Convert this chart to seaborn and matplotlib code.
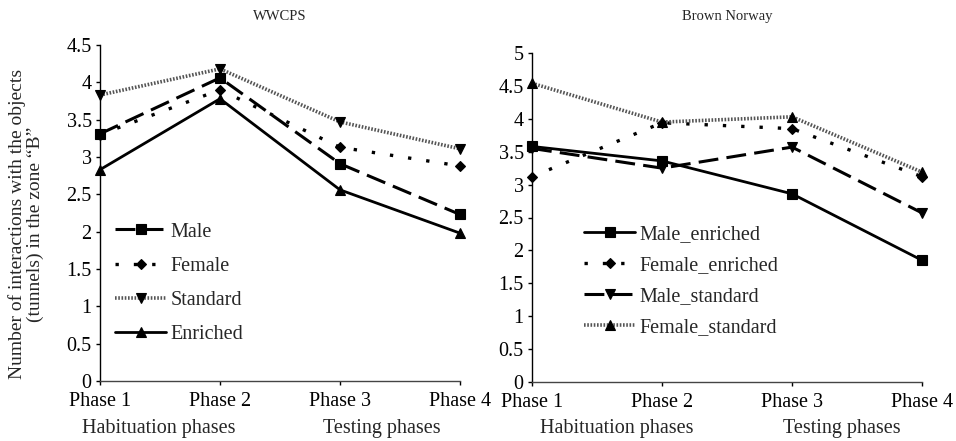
import matplotlib
matplotlib.use('Agg')
import matplotlib.pyplot as plt
import matplotlib.ticker as mticker
import seaborn as sns
import numpy as np

sns.set_style("ticks")
plt.rcParams['font.family'] = ['Liberation Serif', 'DejaVu Serif']

phases = ["Phase 1", "Phase 2", "Phase 3", "Phase 4"]
groups = ["Habituation phases", "Testing phases"]

# WWCPS
wwcps_labels = ["Male", "Female", "Standard", "Enriched"]
wwcps_male = [3.31, 4.06, 2.91, 2.23]
wwcps_female = [3.30, 3.90, 3.13, 2.88]
wwcps_standard = [3.83, 4.18, 3.47, 3.11]
wwcps_enriched = [2.83, 3.78, 2.56, 1.98]

# Brown Norway
bn_labels = ["Male_enriched", "Female_enriched", "Male_standard", "Female_standard"]
bn_male_enriched = [3.58, 3.36, 2.86, 1.85]
bn_female_enriched = [3.12, 3.94, 3.85, 3.12]
bn_male_standard = [3.55, 3.25, 3.57, 2.57]
bn_female_standard = [4.54, 3.95, 4.03, 3.19]

# line looks (Excel style black & white)
DASHED = dict(linestyle=(0, (6.5, 2.7)), linewidth=2.2, color='black')
DOTTED = dict(linestyle=(0, (1, 4.5)), linewidth=2.4, color='black')
FINE = dict(linestyle=(0, (0.45, 0.45)), linewidth=2.6, color='#555555')
SOLID = dict(linestyle='-', linewidth=2.0, color='black')

FS = 14.5
x = np.arange(len(phases))

fig = plt.figure(figsize=(9.56, 4.41), dpi=100)
ax1 = fig.add_axes([100 / 956, 1 - 381 / 441, 360 / 956, 336 / 441])
ax2 = fig.add_axes([532 / 956, 1 - 382 / 441, 390 / 956, 329 / 441])


def draw(ax, series, labels, looks, markers, msizes):
    for vals, lab, look, mk, ms in zip(series, labels, looks, markers, msizes):
        sns.lineplot(x=x, y=vals, ax=ax, label=lab, marker=mk,
                     markersize=ms, markeredgecolor='black', markerfacecolor='black',
                     markeredgewidth=0.8, clip_on=False, **look)


draw(ax1, [wwcps_male, wwcps_female, wwcps_standard, wwcps_enriched], wwcps_labels,
     [DASHED, DOTTED, FINE, SOLID], ['s', 'D', 'v', '^'], [7, 5, 7.5, 7.5])
draw(ax2, [bn_male_enriched, bn_female_enriched, bn_male_standard, bn_female_standard], bn_labels,
     [SOLID, DOTTED, DASHED, FINE], ['s', 'D', 'v', '^'], [7, 5, 7.5, 7.5])

for ax, ymax, title, tpad, grp_x, leg_xy, lspace in [
        (ax1, 4.5, "WWCPS", 18, [0.49, 2.35], (0.042, 0.472), 0.75),
        (ax2, 5.0, "Brown Norway", 24, [0.65, 2.38], (0.133, 0.478), 0.59)]:
    ax.set_xlim(0, 3)
    ax.set_ylim(0, ymax)
    ax.set_xticks(x)
    ax.set_xticklabels(phases)
    ax.set_yticks(np.arange(0, ymax + 0.01, 0.5))
    ax.yaxis.set_major_formatter(mticker.FuncFormatter(lambda v, p: f"{v:g}"))
    ax.tick_params(axis='both', labelsize=FS, length=3, width=1, direction='out',
                   colors='black', pad=3)
    ax.tick_params(axis='x', pad=5)
    sns.despine(ax=ax)
    ax.spines['left'].set_color('black')
    ax.spines['left'].set_linewidth(1.0)
    ax.spines['bottom'].set_color('#444444')
    ax.spines['bottom'].set_linewidth(1.0)
    ax.set_title(title, fontsize=10.5, pad=tpad)
    for gx, gname in zip(grp_x, groups):
        ax.text(gx, -0.14, gname, transform=ax.get_xaxis_transform(),
                ha='center', va='center', fontsize=FS)
    ax.legend(loc='upper left', bbox_to_anchor=leg_xy, frameon=False, fontsize=FS,
              handlelength=2.55, handletextpad=0.2, labelspacing=lspace,
              borderpad=0, borderaxespad=0, numpoints=1)

fig.text(26 / 956, 1 - 224 / 441,
         "Number of interactions with the objects\n(tunnels) in the zone \u201cB\u201d",
         rotation=90, ha='center', va='center', fontsize=14, linespacing=1.1,
         multialignment='center')

fig.savefig('out.png', dpi=100)
